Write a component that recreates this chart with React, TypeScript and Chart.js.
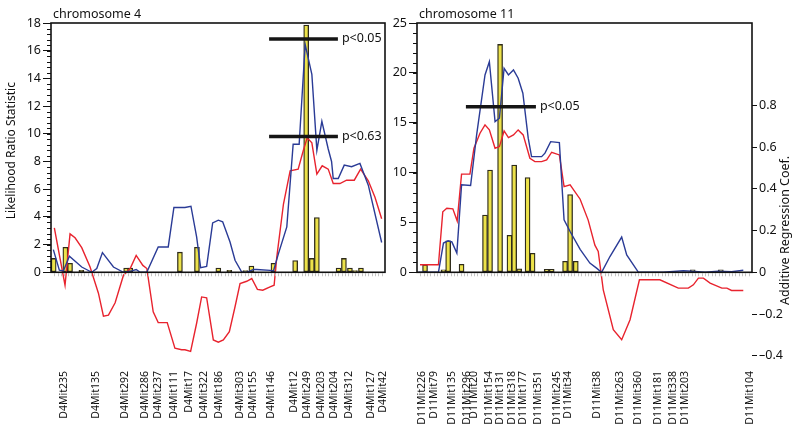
import React, { useEffect, useRef } from 'react';
import { Chart, registerables } from 'chart.js';

Chart.register(...registerables);

const FONT = "'Noto Sans', 'Open Sans', sans-serif";
Chart.defaults.font.family = FONT;

// ---------- Chromosome 4 ----------
const chr4MarkerNames = ['D4Mit235', 'D4Mit135', 'D4Mit292', 'D4Mit286', 'D4Mit237', 'D4Mit111', 'D4Mit17', 'D4Mit322', 'D4Mit186', 'D4Mit303', 'D4Mit155', 'D4Mit146', 'D4Mit12', 'D4Mit249', 'D4Mit203', 'D4Mit204', 'D4Mit312', 'D4Mit127', 'D4Mit42'];
const chr4MarkerPos = [3.9, 13.5, 22.3, 28.1, 31.9, 36.8, 41.3, 45.8, 50.2, 56.7, 60.5, 65.9, 72.8, 76.7, 80.7, 84.6, 89.1, 95.7, 99.4];

const chr4LrsX = [0.7, 2.5, 3.7, 5.5, 9.2, 12.2, 13.7, 15.4, 18.7, 21.7, 24.2, 25.5, 26.7, 28.7, 32.1, 35.1, 36.8, 40.1, 41.9, 43.6, 44.8, 46.6, 48.4, 50.1, 51.4, 53.6, 55.1, 57.1, 58.6, 60.6, 61.6, 65.6, 66.6, 68.1, 70.6, 72.5, 74.3, 76.1, 78.1, 79.6, 81.1, 83.0, 84.0, 84.5, 86.0, 87.8, 90.0, 92.5, 95.0, 99.0];
const chr4LrsY = [1.64, 0.15, 0.1, 1.16, 0.38, 0, 0.27, 1.42, 0.38, 0, 0.1, 0.2, 0, 0.02, 1.83, 1.83, 4.68, 4.68, 4.77, 2.55, 0.34, 0.43, 3.56, 3.76, 3.64, 2.19, 0.87, 0.02, 0, 0.2, 0.2, 0.14, 0.1, 1.35, 3.28, 9.25, 9.25, 16.45, 14.3, 8.8, 10.9, 8.9, 8.0, 6.77, 6.77, 7.74, 7.62, 7.86, 6.29, 2.15];

const chr4AddX = [1.0, 4.2, 5.7, 7.2, 9.2, 11.7, 14.2, 15.7, 17.2, 19.2, 21.7, 23.7, 25.5, 27.5, 28.7, 30.6, 32.1, 34.8, 37.1, 39.1, 40.1, 41.8, 43.6, 45.1, 46.6, 48.6, 50.1, 51.6, 53.4, 55.1, 56.6, 58.6, 60.1, 61.8, 63.4, 65.6, 66.8, 67.6, 69.6, 71.6, 74.0, 75.5, 76.7, 78.1, 79.6, 81.2, 83.0, 84.5, 86.5, 88.5, 90.8, 92.7, 95.0, 97.0, 99.0];
const chr4AddY = [0.213, -0.062, 0.184, 0.165, 0.118, 0.025, -0.1, -0.21, -0.205, -0.146, -0.014, 0.018, 0.081, 0.033, 0.018, -0.189, -0.241, -0.241, -0.363, -0.371, -0.371, -0.379, -0.244, -0.118, -0.122, -0.324, -0.335, -0.324, -0.284, -0.165, -0.054, -0.043, -0.03, -0.082, -0.086, -0.07, -0.062, 0.073, 0.327, 0.486, 0.494, 0.581, 0.644, 0.62, 0.47, 0.51, 0.494, 0.425, 0.425, 0.441, 0.441, 0.494, 0.438, 0.359, 0.256];

const chr4BarX = [0.8, 4.3, 5.7, 9.1, 22.5, 23.7, 38.6, 43.7, 50.1, 53.4, 58.2, 60.0, 66.6, 73.1, 76.4, 78.1, 79.6, 86.1, 87.7, 89.5, 91.0, 92.8];
const chr4BarY = [1.0, 1.8, 0.65, 0.15, 0.3, 0.3, 1.45, 1.8, 0.3, 0.15, 0.12, 0.45, 0.65, 0.85, 17.85, 1.0, 3.95, 0.3, 1.0, 0.3, 0.12, 0.3];

const chr4Thresholds = [16.85, 9.8];
const chr4ThresholdLabels = ['p<0.05', 'p<0.63'];
const chr4ThresholdSpan = [65.3, 85.9];
const chr4YTicks = [0, 2, 4, 6, 8, 10, 12, 14, 16, 18];

// ---------- Chromosome 11 ----------
const chr11MarkerNames = ['D11Mit226', 'D11Mit79', 'D11Mit135', 'D11Mit296', 'D11Mit20', 'D11Mit154', 'D11Mit131', 'D11Mit318', 'D11Mit177', 'D11Mit351', 'D11Mit245', 'D11Mit34', 'D11Mit38', 'D11Mit263', 'D11Mit360', 'D11Mit181', 'D11Mit338', 'D11Mit203', 'D11Mit104'];
const chr11MarkerPos = [1.4, 5.1, 10.5, 14.9, 16.9, 21.6, 24.9, 28.3, 31.6, 36.1, 41.8, 45.1, 53.7, 60.6, 66.0, 71.9, 76.4, 80.0, 99.4];

const chr11LrsX = [0.4, 6.4, 7.9, 9.3, 10.4, 11.9, 13.3, 16.0, 17.8, 20.3, 21.6, 23.3, 24.6, 26.0, 27.3, 28.8, 30.2, 31.6, 33.2, 34.2, 37.2, 38.2, 39.9, 42.5, 43.9, 45.7, 48.7, 51.6, 53.6, 55.1, 57.6, 61.1, 62.6, 66.1, 73.5, 79.5, 82.0, 86.0, 89.9, 93.9, 97.4];
const chr11LrsY = [0, 0, 2.93, 3.16, 3.05, 1.92, 8.77, 8.7, 13.78, 19.79, 21.12, 15.11, 15.45, 20.46, 19.79, 20.29, 19.46, 17.96, 13.45, 11.6, 11.6, 11.95, 13.1, 13.0, 5.26, 4.09, 2.3, 0.92, 0.42, 0, 1.58, 3.53, 1.75, 0, 0, 0.15, 0.1, 0, 0.1, 0.05, 0.2];

const chr11AddX = [0.9, 6.4, 7.7, 8.9, 10.7, 12.0, 13.3, 15.8, 17.0, 18.8, 20.3, 21.6, 23.3, 24.6, 26.0, 27.3, 28.8, 30.2, 31.7, 33.7, 35.2, 37.2, 38.7, 40.2, 42.5, 43.9, 45.7, 48.7, 51.1, 53.1, 54.1, 55.6, 58.6, 61.1, 63.6, 66.4, 72.5, 78.0, 81.0, 82.5, 84.0, 85.5, 87.5, 91.0, 92.5, 93.9, 97.4];
const chr11AddY = [0.036, 0.036, 0.29, 0.307, 0.304, 0.246, 0.47, 0.47, 0.594, 0.666, 0.706, 0.682, 0.594, 0.602, 0.677, 0.645, 0.658, 0.682, 0.658, 0.546, 0.53, 0.53, 0.538, 0.575, 0.562, 0.41, 0.419, 0.35, 0.25, 0.13, 0.1, -0.084, -0.275, -0.323, -0.227, -0.036, -0.036, -0.076, -0.076, -0.06, -0.028, -0.028, -0.052, -0.076, -0.076, -0.087, -0.087];

const chr11BarX = [2.4, 7.9, 9.3, 13.3, 20.3, 21.8, 24.8, 27.6, 29.0, 30.5, 33.0, 34.5, 38.7, 40.2, 44.2, 45.7, 47.4, 82.3, 90.7];
const chr11BarY = [0.75, 0.25, 3.15, 0.8, 5.75, 10.25, 22.85, 3.7, 10.75, 0.35, 9.5, 1.9, 0.3, 0.3, 1.1, 7.8, 1.1, 0.25, 0.25];

const chr11Thresholds = [16.6];
const chr11ThresholdLabels = ['p<0.05'];
const chr11ThresholdSpan = [14.6, 35.5];
const chr11YTicks = [0, 5, 10, 15, 20, 25];
const coefTicks = [-0.4, -0.2, 0, 0.2, 0.4, 0.6, 0.8];

type Panel = {
  title: string;
  names: string[];
  pos: number[];
  lrsX: number[]; lrsY: number[];
  addX: number[]; addY: number[];
  barX: number[]; barY: number[];
  thr: number[]; thrLabels: string[]; thrSpan: number[];
  yTicks: number[]; yMax: number; yMin: number; minorStep: number;
  y2Min: number; y2Max: number; showY2: boolean;
  yTitle: string | null; y2Title: string | null;
  canvasLeft: number; canvasWidth: number; yWidth: number; y2Width: number; padRight: number;
};

const BLUE = '#2a3b96';
const RED = '#e8232e';
const BAR_FILL = '#ece24a';
const BAR_LINE = '#2e2b1a';

const PANELS: Panel[] = [
  {
    title: 'chromosome 4', names: chr4MarkerNames, pos: chr4MarkerPos,
    lrsX: chr4LrsX, lrsY: chr4LrsY, addX: chr4AddX, addY: chr4AddY, barX: chr4BarX, barY: chr4BarY,
    thr: chr4Thresholds, thrLabels: chr4ThresholdLabels, thrSpan: chr4ThresholdSpan,
    yTicks: chr4YTicks, yMax: 18, yMin: -0.42 * 15.08, minorStep: 0.4,
    y2Min: -0.42, y2Max: 18 / 15.08, showY2: false,
    yTitle: 'Likelihood Ratio Statistic', y2Title: null,
    canvasLeft: 0, canvasWidth: 395, yWidth: 51, y2Width: 0, padRight: 10,
  },
  {
    title: 'chromosome 11', names: chr11MarkerNames, pos: chr11MarkerPos,
    lrsX: chr11LrsX, lrsY: chr11LrsY, addX: chr11AddX, addY: chr11AddY, barX: chr11BarX, barY: chr11BarY,
    thr: chr11Thresholds, thrLabels: chr11ThresholdLabels, thrSpan: chr11ThresholdSpan,
    yTicks: chr11YTicks, yMax: 25, yMin: -0.42 * 20.94, minorStep: 1,
    y2Min: -0.42, y2Max: 25 / 20.94, showY2: true,
    yTitle: null, y2Title: 'Additive Regression Coef.',
    canvasLeft: 390, canvasWidth: 410, yWidth: 27, y2Width: 48, padRight: 0,
  },
];

function makeDecor(p: Panel) {
  return {
    id: 'decor',
    afterDatasetsDraw(chart: any) {
      const { ctx, chartArea } = chart;
      const x = chart.scales.x;
      const y = chart.scales.y;
      const y2 = chart.scales.y2;
      const zero = y.getPixelForValue(0);
      const top = y.getPixelForValue(p.yMax);
      ctx.save();
      // light minor ticks along the zero line
      ctx.strokeStyle = '#c4c4c4';
      ctx.lineWidth = 1;
      for (let v = 1; v < 100; v += 1) {
        const px = Math.round(x.getPixelForValue(v)) + 0.5;
        ctx.beginPath();
        ctx.moveTo(px, zero + 1);
        ctx.lineTo(px, zero + 4);
        ctx.stroke();
      }
      // plot box (only over the positive part of the statistic axis)
      ctx.strokeStyle = '#111';
      ctx.lineWidth = 1.6;
      ctx.strokeRect(chartArea.left, top, chartArea.right - chartArea.left, zero - top);
      // minor y ticks
      ctx.lineWidth = 1;
      for (let v = 0; v <= p.yMax + 1e-6; v += p.minorStep) {
        const py = Math.round(y.getPixelForValue(v)) + 0.5;
        ctx.beginPath();
        ctx.moveTo(chartArea.left - 4, py);
        ctx.lineTo(chartArea.left, py);
        ctx.stroke();
      }
      // panel title
      ctx.fillStyle = '#111';
      ctx.font = `12.5px ${FONT}`;
      ctx.textAlign = 'left';
      ctx.textBaseline = 'alphabetic';
      ctx.fillText(p.title, chartArea.left + 2, top - 5);
      // threshold labels
      ctx.textBaseline = 'middle';
      p.thr.forEach((t, i) => {
        ctx.fillText(p.thrLabels[i], x.getPixelForValue(p.thrSpan[1]) + 4, y.getPixelForValue(t));
      });
      // axis titles
      if (p.yTitle) {
        ctx.save();
        ctx.translate(12, (y.getPixelForValue(0) + y.getPixelForValue(p.yMax)) / 2 + 3);
        ctx.rotate(-Math.PI / 2);
        ctx.textAlign = 'center';
        ctx.font = `12px ${FONT}`;
        ctx.fillText(p.yTitle, 0, 0);
        ctx.restore();
      }
      if (p.y2Title && y2) {
        ctx.save();
        ctx.translate(chartArea.right + 33, (y2.getPixelForValue(-0.4) + y2.getPixelForValue(0.8)) / 2);
        ctx.rotate(-Math.PI / 2);
        ctx.textAlign = 'center';
        ctx.font = `12.5px ${FONT}`;
        ctx.fillText(p.y2Title, 0, 0);
        ctx.restore();
      }
      ctx.restore();
    },
  };
}

function buildConfig(p: Panel): any {
  const lrs = p.lrsX.map((v, i) => ({ x: v, y: p.lrsY[i] }));
  const add = p.addX.map((v, i) => ({ x: v, y: p.addY[i] }));
  const bars = p.barX.map((v, i) => ({ x: v, y: p.barY[i] }));
  const thrSets = p.thr.map((t) => ({
    type: 'line',
    data: [{ x: p.thrSpan[0], y: t }, { x: p.thrSpan[1], y: t }],
    borderColor: '#151515',
    borderWidth: 3.5,
    pointRadius: 0,
    yAxisID: 'y',
    order: -1,
  }));
  return {
    type: 'bar',
    data: {
      datasets: [
        ...thrSets,
        { type: 'line', data: lrs, borderColor: BLUE, borderWidth: 1.4, pointRadius: 0, tension: 0, yAxisID: 'y', order: 0 },
        { type: 'line', data: add, borderColor: RED, borderWidth: 1.4, pointRadius: 0, tension: 0, yAxisID: 'y2', order: 0 },
        { type: 'bar', data: bars, backgroundColor: BAR_FILL, borderColor: BAR_LINE, borderWidth: 1.3, borderSkipped: false, barThickness: 5, yAxisID: 'y', order: 1 },
      ],
    },
    options: {
      responsive: false,
      animation: false,
      events: [],
      layout: { padding: { top: 23, right: p.padRight, bottom: 0, left: 0 } },
      plugins: { legend: { display: false }, tooltip: { enabled: false } },
      scales: {
        x: {
          type: 'linear', min: 0, max: 100, offset: false,
          grid: { display: false, drawTicks: false },
          border: { display: false },
          afterBuildTicks: (s: any) => { s.ticks = p.pos.map((v) => ({ value: v })); },
          afterFit: (s: any) => { s.height = 83; s.paddingLeft = 0; s.paddingRight = 0; },
          ticks: {
            autoSkip: false, minRotation: 90, maxRotation: 90, padding: 11,
            color: '#111', font: { size: 10.5 },
            callback: (_v: any, i: number) => p.names[i],
          },
        },
        y: {
          type: 'linear', position: 'left', min: p.yMin, max: p.yMax,
          afterBuildTicks: (s: any) => { s.ticks = p.yTicks.map((v) => ({ value: v })); },
          afterFit: (s: any) => { s.width = p.yWidth; s.paddingTop = 0; s.paddingBottom = 0; },
          grid: { drawOnChartArea: false, drawTicks: true, tickLength: 8, color: '#111', lineWidth: 1 },
          border: { display: false },
          ticks: { padding: 2, color: '#111', font: { size: 12.5 } },
        },
        y2: {
          type: 'linear', position: 'right', min: p.y2Min, max: p.y2Max, display: p.showY2,
          afterBuildTicks: (s: any) => { s.ticks = coefTicks.map((v) => ({ value: v })); },
          afterFit: (s: any) => { s.width = p.y2Width; s.paddingTop = 0; s.paddingBottom = 0; },
          grid: { drawOnChartArea: false, drawTicks: true, tickLength: 5, color: '#111', lineWidth: 1 },
          border: { display: false },
          ticks: {
            padding: 2, color: '#111', font: { size: 12.5 },
            callback: (v: number) => (Math.abs(v) < 1e-9 ? '0' : (v < 0 ? '\u2013' + Math.abs(v).toFixed(1) : v.toFixed(1))),
          },
        },
      },
    },
    plugins: [makeDecor(p)],
  };
}

function PanelChart({ p }: { p: Panel }) {
  const ref = useRef<HTMLCanvasElement | null>(null);
  useEffect(() => {
    if (!ref.current) return;
    const chart = new Chart(ref.current, buildConfig(p));
    return () => chart.destroy();
  }, [p]);
  return (
    <canvas
      ref={ref}
      width={p.canvasWidth}
      height={443}
      style={{ position: 'absolute', left: p.canvasLeft, top: 0, width: p.canvasWidth, height: 443 }}
    />
  );
}

export default function App() {
  return (
    <div style={{ position: 'absolute', left: 0, top: 0, width: 800, height: 443, background: '#fff', overflow: 'hidden' }}>
      {PANELS.map((p) => (
        <PanelChart key={p.title} p={p} />
      ))}
    </div>
  );
}
